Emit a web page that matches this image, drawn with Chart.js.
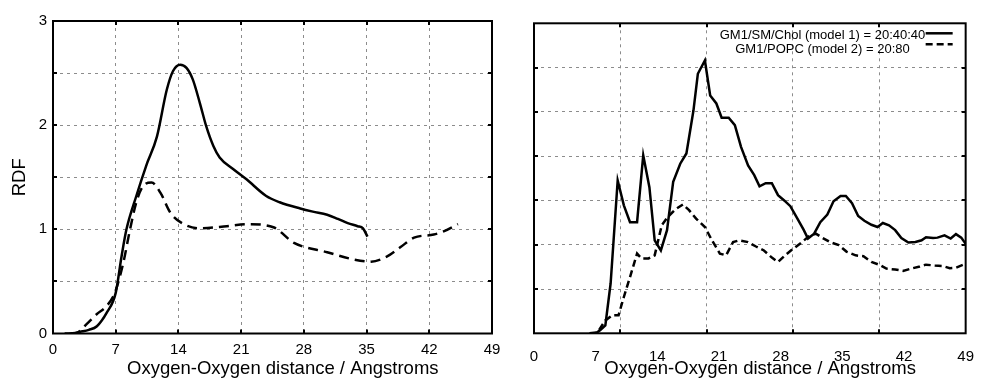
<!DOCTYPE html>
<html>
<head>
<meta charset="utf-8">
<script src="https://cdn.jsdelivr.net/npm/chart.js@4.4.1/dist/chart.umd.min.js"></script>
<style>
  html, body { margin: 0; padding: 0; background: #fff; }
  #wrap { position: relative; width: 981px; height: 380px; overflow: hidden; }
  #wrap canvas { position: absolute; top: 0; }
</style>
</head>
<body>
<div id="wrap">
  <canvas id="left" width="510" height="380" style="left:0;width:510px;height:380px"></canvas>
  <canvas id="right" width="501" height="380" style="left:480px;width:501px;height:380px"></canvas>
</div>
<script>
// Series labels
const seriesNames = ['GM1/SM/Chol (model 1) = 20:40:40', 'GM1/POPC (model 2) = 20:80'];

// Axis text
const xTitle = 'Oxygen-Oxygen distance / Angstroms';
const yTitle = 'RDF';

// Tick values
const distTicks = [0, 7, 14, 21, 28, 35, 42, 49];
const rightGridX = [0, 9.8, 19.6, 29.4, 39.2, 49];

// Left panel: model 1 RDF
const leftDist1 = [1.3, 2.5, 3.0, 4.0, 4.9, 6.0, 7.0, 7.65, 8.2, 9.3, 10.4, 11.6, 12.7, 13.4, 14.2, 14.9, 15.6, 16.4, 17.1, 17.9, 18.6, 20.1, 21.6, 23.8, 25.3, 27.6, 29.0, 30.6, 31.8, 32.9, 34.0, 34.6, 35.1];
const leftRdf1  = [0, 0.005, 0.015, 0.035, 0.07, 0.2, 0.39, 0.74, 1.0, 1.32, 1.61, 1.89, 2.34, 2.52, 2.58, 2.55, 2.44, 2.21, 1.99, 1.8, 1.69, 1.58, 1.48, 1.32, 1.26, 1.2, 1.17, 1.14, 1.1, 1.06, 1.03, 1.01, 0.93];

// Left panel: model 2 RDF
const leftDist2 = [2.0, 2.6, 3.75, 4.87, 6.0, 6.9, 7.85, 8.6, 9.3, 10.1, 11.0, 12.0, 13.1, 14.6, 16.4, 19.4, 21.7, 24.6, 26.9, 30.6, 33.6, 35.5, 37.3, 38.8, 40.3, 42.5, 43.6, 45.2];
const leftRdf2  = [0, 0.005, 0.09, 0.185, 0.265, 0.39, 0.68, 1.0, 1.26, 1.42, 1.45, 1.35, 1.16, 1.05, 1.01, 1.03, 1.05, 1.02, 0.87, 0.78, 0.71, 0.69, 0.74, 0.83, 0.92, 0.95, 0.98, 1.05];

// Right panel: model 1
const rightDist1 = [7.0, 7.5, 8.1, 8.7, 9.5, 10.2, 10.9, 11.7, 12.4, 13.1, 13.7, 14.4, 15.1, 15.8, 16.6, 17.3, 18.1, 18.6, 19.4, 20.0, 20.7, 21.3, 22.1, 22.8, 23.5, 24.3, 25.0, 25.6, 26.3, 27.0, 27.7, 28.4, 29.1, 29.9, 30.6, 31.1, 31.8, 32.5, 33.3, 34.0, 34.8, 35.4, 36.1, 36.8, 37.5, 38.3, 39.0, 39.6, 40.3, 41.0, 41.7, 42.5, 43.3, 44.0, 44.5, 45.3, 45.8, 46.6, 47.3, 47.9, 48.5, 49.0];
const rightVal1  = [0, 0.07, 0.18, 1.13, 3.45, 2.89, 2.51, 2.51, 4.02, 3.30, 2.10, 1.87, 2.33, 3.42, 3.83, 4.06, 5.03, 5.86, 6.16, 5.37, 5.19, 4.87, 4.87, 4.70, 4.21, 3.79, 3.57, 3.32, 3.39, 3.39, 3.12, 3.00, 2.87, 2.59, 2.34, 2.14, 2.25, 2.51, 2.68, 2.98, 3.10, 3.10, 2.94, 2.65, 2.54, 2.45, 2.40, 2.49, 2.44, 2.33, 2.15, 2.05, 2.06, 2.10, 2.17, 2.15, 2.16, 2.21, 2.14, 2.24, 2.16, 2.02];

// Right panel: model 2
const rightDist2 = [6.3, 7.2, 8.1, 8.9, 9.6, 10.2, 10.9, 11.7, 12.2, 13.0, 13.7, 14.1, 14.5, 15.2, 16.0, 16.9, 17.6, 18.4, 19.4, 20.2, 21.1, 21.8, 22.6, 23.3, 24.3, 25.2, 26.1, 27.0, 27.7, 28.5, 29.3, 30.3, 31.2, 32.0, 32.7, 33.6, 34.6, 35.5, 36.5, 37.4, 38.3, 39.3, 40.0, 41.0, 41.9, 42.8, 43.8, 44.5, 45.5, 46.4, 47.2, 47.9, 49.0];
const rightVal2  = [0, 0.02, 0.29, 0.41, 0.41, 0.82, 1.27, 1.80, 1.69, 1.69, 1.76, 2.10, 2.44, 2.63, 2.79, 2.91, 2.78, 2.59, 2.40, 2.10, 1.80, 1.76, 2.06, 2.10, 2.06, 1.96, 1.87, 1.71, 1.61, 1.76, 1.89, 2.04, 2.19, 2.25, 2.16, 2.06, 1.99, 1.84, 1.76, 1.74, 1.61, 1.54, 1.46, 1.44, 1.41, 1.46, 1.51, 1.55, 1.53, 1.52, 1.47, 1.48, 1.57];

const FONT = "'Liberation Sans', Arial, Helvetica, sans-serif";
const pts = (xs, ys) => xs.map((x, i) => ({ x, y: ys[i] }));

// Black frame with short inward tick marks on all four sides
const framePlugin = {
  id: 'frame',
  afterDraw(chart, args, opts) {
    const { ctx, chartArea: a } = chart;
    const xs = chart.scales[opts.xScale || 'x'];
    const ys = chart.scales.y;
    const L = 4;
    ctx.save();
    ctx.strokeStyle = '#000';
    ctx.lineWidth = 2;
    ctx.beginPath();
    xs.ticks.forEach(t => {
      if (t.value <= xs.min || t.value >= xs.max) return;
      const p = Math.round(xs.getPixelForValue(t.value));
      ctx.moveTo(p, a.bottom); ctx.lineTo(p, a.bottom - L);
      ctx.moveTo(p, a.top); ctx.lineTo(p, a.top + L);
    });
    ys.ticks.forEach(t => {
      if (t.value <= ys.min || t.value >= ys.max) return;
      const p = Math.round(ys.getPixelForValue(t.value));
      ctx.moveTo(a.left, p); ctx.lineTo(a.left + L, p);
      ctx.moveTo(a.right, p); ctx.lineTo(a.right - L, p);
    });
    ctx.stroke();
    ctx.strokeRect(a.left, a.top, a.right - a.left, a.bottom - a.top);
    ctx.restore();
  }
};

// Key in the upper right corner: centred text, line samples to its right
const keyPlugin = {
  id: 'key',
  afterDraw(chart, args, opts) {
    if (!opts.show) return;
    const { ctx, chartArea: a } = chart;
    ctx.save();
    ctx.fillStyle = '#000';
    ctx.font = '13px ' + FONT;
    ctx.textAlign = 'center';
    ctx.textBaseline = 'middle';
    chart.data.datasets.forEach((ds, i) => {
      ctx.fillText(ds.label, a.left + opts.textCenter, a.top + opts.textRows[i]);
      ctx.beginPath();
      ctx.lineWidth = ds.borderWidth;
      ctx.setLineDash(ds.borderDash || []);
      const y = a.top + opts.sampleRows[i];
      ctx.moveTo(a.right - opts.sampleRight - opts.sampleLen, y);
      ctx.lineTo(a.right - opts.sampleRight, y);
      ctx.stroke();
    });
    ctx.restore();
  }
};

const gridStyle = { color: '#8c8c8c', lineWidth: 1, drawTicks: false };
const borderStyle = { display: false, dash: [3, 4] };
const tickFont = { family: FONT, size: 15 };
const titleFont = { family: FONT, size: 18.5, lineHeight: 1 };

// Left panel
new Chart(document.getElementById('left'), {
  type: 'line',
  data: {
    datasets: [
      { label: seriesNames[0], data: pts(leftDist1, leftRdf1), borderColor: '#000', borderWidth: 2.5,
        pointRadius: 0, cubicInterpolationMode: 'monotone', fill: false },
      { label: seriesNames[1], data: pts(leftDist2, leftRdf2), borderColor: '#000', borderWidth: 2.5,
        borderDash: [10, 6], pointRadius: 0, cubicInterpolationMode: 'monotone', fill: false }
    ]
  },
  options: {
    responsive: false, animation: false,
    layout: { padding: { top: 21, right: 18, bottom: 0, left: 0 } },
    plugins: { legend: { display: false }, tooltip: { enabled: false }, frame: {}, key: { show: false } },
    scales: {
      x: {
        type: 'linear', min: 0, max: 49,
        afterFit: s => { s.height = 46.5; },
        afterBuildTicks: s => { s.ticks = distTicks.map(v => ({ value: v })); },
        grid: gridStyle, border: borderStyle,
        ticks: { color: '#000', font: tickFont, padding: 7, autoSkip: false, maxRotation: 0 },
        title: { display: true, text: '    ' + xTitle, color: '#000', font: titleFont, padding: { top: 0, bottom: 1.5 } }
      },
      y: {
        min: 0, max: 3,
        afterFit: s => { s.width = 53; },
        grid: gridStyle, border: borderStyle,
        ticks: { stepSize: 0.5, color: '#000', font: tickFont, padding: 6,
                 callback: v => Number.isInteger(v) ? String(v) : '' },
        title: { display: true, text: yTitle, color: '#000', font: titleFont, padding: { top: 11, bottom: 0 } }
      }
    }
  },
  plugins: [framePlugin, keyPlugin]
});

// Right panel
new Chart(document.getElementById('right'), {
  type: 'line',
  data: {
    datasets: [
      { label: seriesNames[0], data: pts(rightDist1, rightVal1), borderColor: '#000', borderWidth: 2.5,
        pointRadius: 0, tension: 0, fill: false },
      { label: seriesNames[1], data: pts(rightDist2, rightVal2), borderColor: '#000', borderWidth: 2.5,
        borderDash: [7, 4], pointRadius: 0, tension: 0, fill: false }
    ]
  },
  options: {
    responsive: false, animation: false,
    layout: { padding: { top: 23.3, right: 13, bottom: 0, left: 0 } },
    plugins: {
      legend: { display: false }, tooltip: { enabled: false }, frame: {},
      key: { show: true, textCenter: 288.5, textRows: [12.2, 26.2], sampleRows: [10, 21], sampleRight: 13, sampleLen: 27 }
    },
    scales: {
      x: {
        type: 'linear', min: 0, max: 49, position: 'bottom', weight: 2,
        afterFit: s => { s.height = 0; },
        afterBuildTicks: s => { s.ticks = rightGridX.map(v => ({ value: v })); },
        grid: gridStyle, border: borderStyle,
        ticks: { display: false }
      },
      xLabels: {
        type: 'linear', min: 0, max: 49, position: 'bottom', weight: 1,
        afterFit: s => { s.height = 46.7; },
        afterBuildTicks: s => { s.ticks = distTicks.map(v => ({ value: v })); },
        grid: { display: false }, border: { display: false },
        ticks: { color: '#000', font: tickFont, padding: 7, autoSkip: false, maxRotation: 0 },
        title: { display: true, text: '    ' + xTitle, color: '#000', font: titleFont, padding: { top: 0, bottom: 1.5 } }
      },
      y: {
        min: 0, max: 7,
        afterFit: s => { s.width = 54; },
        grid: gridStyle, border: borderStyle,
        ticks: { stepSize: 1, display: false }
      }
    }
  },
  plugins: [framePlugin, keyPlugin]
});
</script>
</body>
</html>
